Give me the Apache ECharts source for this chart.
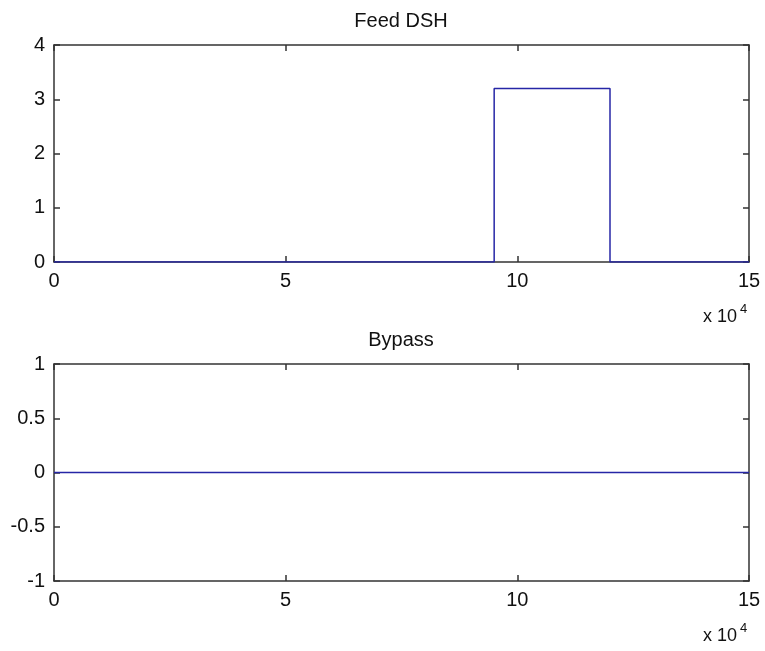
<!DOCTYPE html>
<html>
<head>
<meta charset="utf-8">
<script src="https://cdn.jsdelivr.net/npm/echarts@6/dist/echarts.min.js"></script>
<style>
  html, body { margin: 0; padding: 0; background: #fff; }
  #chart { width: 765px; height: 651px; }
</style>
</head>
<body>
<div id="chart"></div>
<script>
// Feed DSH step signal (time, value) and Bypass signal
const feedTime  = [0, 95000, 95000, 120000, 120000, 150000];
const feedValue = [0, 0, 3.2, 3.2, 0, 0];
const bypassTime  = [0, 150000];
const bypassValue = [0, 0];

const xTicks = [0, 50000, 100000, 150000];
const feedYTicks = [0, 1, 2, 3, 4];
const bypassYTicks = [-1, -0.5, 0, 0.5, 1];

const FONT = '"Liberation Sans", Arial, sans-serif';
const AX = '#333333';
const LINE = '#2626a6';

function pairs(xs, ys) { return xs.map((x, i) => [x, ys[i]]); }

const plots = [
  { top: 45, yTicks: feedYTicks, title: 'Feed DSH', data: pairs(feedTime, feedValue) },
  { top: 364, yTicks: bypassYTicks, title: 'Bypass', data: pairs(bypassTime, bypassValue) }
];

const grids = [], xAxes = [], yAxes = [], series = [], graphics = [];
plots.forEach((p, i) => {
  grids.push({ left: 54, right: 16, top: p.top, height: 217 });
  const base = {
    type: 'value', gridIndex: i,
    min: xTicks[0], max: xTicks[xTicks.length - 1], interval: xTicks[1] - xTicks[0],
    axisLine: { show: true, onZero: false, lineStyle: { color: AX, width: 1.5 } },
    axisTick: { show: true, inside: true, length: 6, lineStyle: { color: AX, width: 1.5 } },
    splitLine: { show: false }
  };
  xAxes.push(Object.assign({}, base, {
    position: 'bottom',
    axisLabel: { show: true, margin: 9, color: '#111', fontFamily: FONT, fontSize: 20,
                 formatter: v => String(v / 10000) }
  }));
  xAxes.push(Object.assign({}, base, { position: 'top', axisLabel: { show: false } }));
  const ybase = {
    type: 'value', gridIndex: i,
    min: p.yTicks[0], max: p.yTicks[p.yTicks.length - 1], interval: p.yTicks[1] - p.yTicks[0],
    axisLine: { show: true, onZero: false, lineStyle: { color: AX, width: 1.5 } },
    axisTick: { show: true, inside: true, length: 6, lineStyle: { color: AX, width: 1.5 } },
    splitLine: { show: false }
  };
  yAxes.push(Object.assign({}, ybase, {
    position: 'left',
    axisLabel: { show: true, margin: 9, color: '#111', fontFamily: FONT, fontSize: 20,
                 formatter: v => String(v) }
  }));
  yAxes.push(Object.assign({}, ybase, { position: 'right', axisLabel: { show: false } }));
  series.push({
    type: 'line', xAxisIndex: i * 2, yAxisIndex: i * 2,
    data: p.data, symbol: 'none', animation: false,
    lineStyle: { color: LINE, width: 1.5 }
  });
  graphics.push({
    type: 'text', x: 401, y: p.top - 24,
    style: { text: p.title, fill: '#111', font: '20px ' + FONT, textAlign: 'center', textVerticalAlign: 'middle' }
  });
  // scale factor note for the x axis
  graphics.push({
    type: 'text', x: 703, y: p.top + 217 + 55,
    style: { text: 'x 10', fill: '#111', font: '18px ' + FONT, textAlign: 'left', textVerticalAlign: 'middle' }
  });
  graphics.push({
    type: 'text', x: 740, y: p.top + 217 + 47,
    style: { text: '4', fill: '#111', font: '13px ' + FONT, textAlign: 'left', textVerticalAlign: 'middle' }
  });
});

const chart = echarts.init(document.getElementById('chart'));
chart.setOption({
  backgroundColor: '#fff',
  animation: false,
  grid: grids,
  xAxis: xAxes,
  yAxis: yAxes,
  series: series,
  graphic: graphics
});
</script>
</body>
</html>
